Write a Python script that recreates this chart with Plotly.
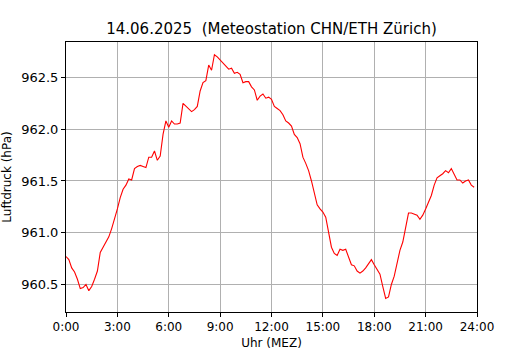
import plotly.graph_objects as go

# 10-minute values, 0:00 .. 23:50 (hPa)
pressure = [
    960.77, 960.74, 960.66, 960.62, 960.55, 960.46,   # 0h
    960.47, 960.50, 960.44, 960.48, 960.55, 960.63,   # 1h
    960.81, 960.86, 960.90, 960.96, 961.04, 961.13,   # 2h
    961.23, 961.34, 961.42, 961.46, 961.52, 961.51,   # 3h
    961.62, 961.64, 961.65, 961.64, 961.63, 961.73,   # 4h
    961.73, 961.79, 961.70, 961.74, 961.95, 962.08,   # 5h
    962.02, 962.08, 962.05, 962.05, 962.06, 962.25,   # 6h
    962.22, 962.19, 962.17, 962.19, 962.22, 962.37,   # 7h
    962.45, 962.47, 962.62, 962.57, 962.72, 962.70,   # 8h
    962.67, 962.65, 962.62, 962.58, 962.59, 962.54,   # 9h
    962.55, 962.53, 962.45, 962.46, 962.46, 962.41,   # 10h
    962.38, 962.28, 962.32, 962.34, 962.30, 962.31,   # 11h
    962.29, 962.22, 962.20, 962.18, 962.14, 962.08,   # 12h
    962.06, 962.03, 961.95, 961.92, 961.86, 961.73,   # 13h
    961.67, 961.60, 961.50, 961.39, 961.27, 961.23,   # 14h
    961.20, 961.15, 961.02, 960.86, 960.80, 960.78,   # 15h
    960.84, 960.83, 960.84, 960.76, 960.69, 960.68,   # 16h
    960.63, 960.61, 960.63, 960.66, 960.70, 960.74,   # 17h
    960.69, 960.65, 960.60, 960.48, 960.365, 960.38,  # 18h
    960.50, 960.58, 960.69, 960.83, 960.91, 961.07,   # 19h
    961.19, 961.19, 961.18, 961.17, 961.13, 961.17,   # 20h
    961.23, 961.29, 961.36, 961.46, 961.53, 961.55,   # 21h
    961.57, 961.60, 961.58, 961.62, 961.57, 961.51,   # 22h
    961.51, 961.48, 961.50, 961.51, 961.46, 961.44,   # 23h
]
hours = [i / 6 for i in range(len(pressure))]

x_tickvals = [0, 3, 6, 9, 12, 15, 18, 21, 24]
x_ticktext = ["0:00", "3:00", "6:00", "9:00", "12:00", "15:00", "18:00", "21:00", "24:00"]
y_tickvals = [960.5, 961.0, 961.5, 962.0, 962.5]

title_text = "14.06.2025  (Meteostation CHN/ETH Zürich)"

fig = go.Figure()
fig.add_trace(go.Scatter(x=hours, y=pressure, mode="lines",
                         line=dict(color="#ff0000", width=1.1),
                         hoverinfo="skip", showlegend=False))

font_family = "DejaVu Sans"
axis_common = dict(
    showline=True, linecolor="black", linewidth=1, mirror=True,
    ticks="outside", ticklen=4, tickcolor="black", tickwidth=1,
    showgrid=True, gridcolor="#b0b0b0", gridwidth=1,
    zeroline=False, automargin=False,
)

fig.update_layout(
    width=530, height=350,
    margin=dict(l=66, r=53, t=42, b=38),
    paper_bgcolor="white", plot_bgcolor="white",
    title=dict(text=title_text, x=(66 + 411 / 2) / 530, xanchor="center",
               y=1 - 28.5 / 350, yanchor="middle", yref="container",
               font=dict(family=font_family, size=15, color="black")),
    xaxis=dict(range=[0, 24], tickvals=x_tickvals, ticktext=x_ticktext,
               tickfont=dict(family=font_family, size=12, color="black"),
               title=dict(text="Uhr (MEZ)", standoff=6,
                          font=dict(family=font_family, size=12, color="black")),
               **axis_common),
    yaxis=dict(range=[960.234, 962.843], tickvals=y_tickvals, tickformat=".1f",
               tickfont=dict(family=font_family, size=13, color="black"),
               title=dict(text="Luftdruck (hPa)", standoff=7,
                          font=dict(family=font_family, size=12, color="black")),
               **axis_common),
)

# remove the default 8px body margin of the page so the figure sits at (0, 0)
fig.write_html("out.html",
               config={"displayModeBar": False},
               post_script="document.body.style.margin='0';")
